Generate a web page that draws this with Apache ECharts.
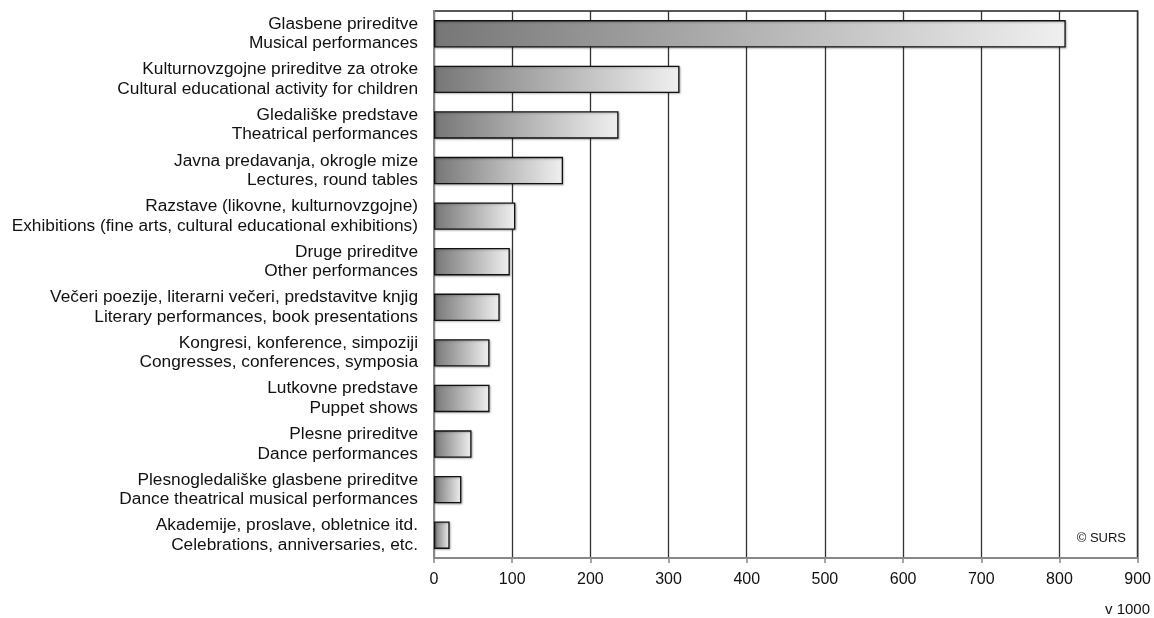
<!DOCTYPE html>
<html>
<head>
<meta charset="utf-8">
<script src="https://cdn.jsdelivr.net/npm/echarts@6/dist/echarts.min.js"></script>
<style>
html,body{margin:0;padding:0;background:#fff;}
#chart{width:1154px;height:618px;}
</style>
</head>
<body>
<div id="chart"></div>
<script>
const categories = [
  "Glasbene prireditve\nMusical performances",
  "Kulturnovzgojne prireditve za otroke\nCultural educational activity for children",
  "Gledališke predstave\nTheatrical performances",
  "Javna predavanja, okrogle mize\nLectures, round tables",
  "Razstave (likovne, kulturnovzgojne)\nExhibitions (fine arts, cultural educational exhibitions)",
  "Druge prireditve\nOther performances",
  "Večeri poezije, literarni večeri, predstavitve knjig\nLiterary performances, book presentations",
  "Kongresi, konference, simpoziji\nCongresses, conferences, symposia",
  "Lutkovne predstave\nPuppet shows",
  "Plesne prireditve\nDance performances",
  "Plesnogledališke glasbene prireditve\nDance theatrical musical performances",
  "Akademije, proslave, obletnice itd.\nCelebrations, anniversaries, etc."
];
const values = [808, 314, 236, 165, 104, 97, 84, 71, 71, 48, 35, 20];
const xTicks = [0, 100, 200, 300, 400, 500, 600, 700, 800, 900];

const chart = echarts.init(document.getElementById('chart'));
const font = 'Liberation Sans, Arial, sans-serif';
chart.setOption({
  animation: false,
  grid: {left: 434, right: 16, top: 11, bottom: 60, show: true, borderColor: '#222', borderWidth: 1.5, backgroundColor: 'transparent'},
  xAxis: {
    type: 'value', min: xTicks[0], max: xTicks[xTicks.length - 1], interval: 100,
    axisLine: {show: true, lineStyle: {color: '#888', width: 2}},
    axisTick: {show: true, length: 5, lineStyle: {color: '#888', width: 1.5}},
    axisLabel: {color: '#111', fontSize: 16, fontFamily: font, margin: 14},
    splitLine: {show: true, lineStyle: {color: '#333', width: 1.3}}
  },
  yAxis: {
    type: 'category', data: categories, inverse: true,
    axisLine: {show: true, lineStyle: {color: '#888', width: 2}},
    axisTick: {show: false},
    axisLabel: {color: '#111', fontSize: 17.3, fontFamily: font, lineHeight: 19.5, margin: 16, align: 'right'}
  },
  series: [{
    type: 'bar', data: values, barCategoryGap: '40%',
    itemStyle: {
      color: new echarts.graphic.LinearGradient(0, 0, 1, 0, [
        {offset: 0, color: '#767676'},
        {offset: 1, color: '#f0f0f0'}
      ]),
      borderColor: '#111', borderWidth: 1.3,
      shadowColor: 'rgba(0,0,0,0.25)', shadowBlur: 2, shadowOffsetX: 1, shadowOffsetY: 1
    }
  }],
  graphic: [
    {type: 'text', right: 28, top: 532, style: {text: '© SURS', fontSize: 13, fontFamily: font, fill: '#111'}},
    {type: 'text', right: 4, top: 602, style: {text: 'v 1000', fontSize: 15, fontFamily: font, fill: '#111'}}
  ]
});
</script>
</body>
</html>
